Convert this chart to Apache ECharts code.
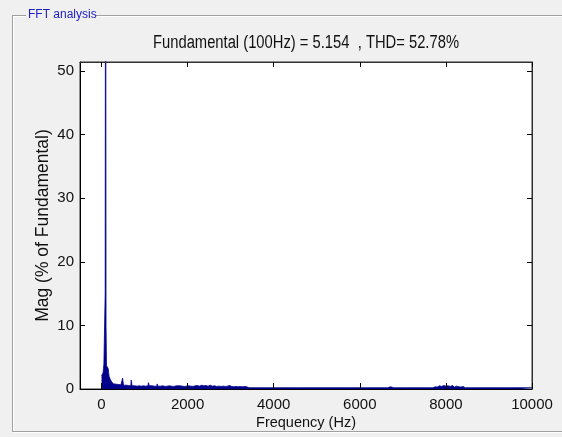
<!DOCTYPE html>
<html>
<head>
<meta charset="utf-8">
<script src="https://cdn.jsdelivr.net/npm/echarts@6/dist/echarts.min.js"></script>
<style>
html,body{margin:0;padding:0;background:#f0f0f0;}
#chart{width:562px;height:437px;}
</style>
</head>
<body>
<div id="chart"></div>
<script>
// ---- data ----
const panelTitle = 'FFT analysis';
const chartTitle = 'Fundamental (100Hz) = 5.154  , THD= 52.78%';
const xAxisName = 'Frequency (Hz)';
const yAxisName = 'Mag (% of Fundamental)';
const xTicks = [0, 2000, 4000, 6000, 8000, 10000];
const yTicks = [0, 10, 20, 30, 40, 50];

// spectrum: frequency (Hz) and magnitude (% of fundamental)
const freqHz = [
  0, 10, 20, 30, 40, 50, 60, 70, 80, 90, 100, 110, 120, 130, 140, 150, 160, 170, 180, 190,
  200, 210, 220, 230, 240, 250, 260, 270, 280, 290,
  300, 350, 400, 450, 480, 500, 520, 550, 600, 650, 680, 700, 720, 750, 800, 850, 900, 950, 1000, 1050,
  1080, 1100, 1120, 1150, 1200, 1250, 1280, 1300, 1320, 1350, 1400, 1450, 1500, 1550, 1600, 1650,
  1700, 1730, 1750, 1770, 1800, 1850, 1900, 1950, 2000, 2050, 2100, 2150, 2200, 2250,
  2300, 2350, 2400, 2450, 2500, 2550, 2600, 2650, 2700, 2750,
  2800, 2850, 2900, 2950, 3000, 3050, 3100, 3150, 3200, 3250, 3300, 3350, 3400,
  3450, 4310, 4330, 4350, 4750, 4770, 4790,
  6580, 6600, 6620, 6680, 6700, 6720, 6860, 6880, 6900, 7310, 7330, 7350,
  7700, 7750, 7800, 7850, 7900, 7950, 8000, 8050, 8100, 8150, 8200, 8250, 8300, 8350, 8400, 8450,
  9000, 9500, 10000
];
const magPct = [
  2.1, 2.3, 2.2, 2.4, 2.5, 3.2, 3.9, 4.1, 4.0, 15.0, 100, 9.8, 3.7, 3.9, 3.5, 3.6, 3.2, 2.6, 2.0, 1.9,
  1.7, 1.5, 1.3, 1.2, 1.1, 1.0, 1.0, 0.9, 0.9, 0.8,
  0.8, 0.75, 0.7, 0.65, 0.6, 1.7, 0.6, 0.6, 0.55, 0.5, 0.5, 1.4, 0.5, 0.5, 0.45, 0.5, 0.45, 0.5, 0.45, 0.5,
  0.5, 1.0, 0.5, 0.5, 0.45, 0.5, 0.45, 0.8, 0.45, 0.45, 0.5, 0.4, 0.45, 0.5, 0.45, 0.4,
  0.55, 0.5, 0.8, 0.5, 0.5, 0.45, 0.4, 0.45, 0.5, 0.45, 0.4, 0.5, 0.55, 0.45,
  0.6, 0.5, 0.55, 0.45, 0.6, 0.45, 0.5, 0.4, 0.45, 0.4,
  0.45, 0.4, 0.45, 0.55, 0.4, 0.35, 0.4, 0.35, 0.4, 0.35, 0.4, 0.35, 0.2,
  0.2, 0.2, 0.35, 0.2, 0.2, 0.35, 0.2,
  0.2, 0.35, 0.2, 0.2, 0.35, 0.2, 0.2, 0.35, 0.2, 0.2, 0.35, 0.2,
  0.2, 0.35, 0.3, 0.5, 0.4, 0.55, 0.45, 0.5, 0.4, 0.55, 0.3, 0.45, 0.35, 0.3, 0.4, 0.2,
  0.2, 0.2, 0.2
];

// ---- chart ----
const sans = '"Liberation Sans", Arial, sans-serif';
const navy = '#00008b';
const points = freqHz.map((f, i) => [f, magPct[i]]);
const plain = v => String(v);

const chart = echarts.init(document.getElementById('chart'), null, {renderer: 'canvas'});
const option = {
  backgroundColor: '#f0f0f0',
  animation: false,
  grid: {left: 80, right: 30, top: 62, bottom: 48, show: true, backgroundColor: '#ffffff', borderColor: '#303030', borderWidth: 1},
  xAxis: [
    {
      type: 'value', min: -500, max: 10000, position: 'bottom', z: 10,
      name: xAxisName, nameLocation: 'middle', nameGap: 26, nameMoveOverlap: false,
      nameTextStyle: {fontFamily: sans, fontSize: 14.5, color: '#111'},
      axisLine: {show: true, onZero: false, lineStyle: {color: '#000', width: 1}},
      axisTick: {show: true, inside: true, length: 6, customValues: xTicks, lineStyle: {color: '#000'}},
      axisLabel: {show: true, customValues: xTicks, formatter: plain, margin: 8, fontFamily: sans, fontSize: 15, color: '#111'},
      splitLine: {show: false}
    },
    {
      type: 'value', min: -500, max: 10000, position: 'top', z: 10,
      axisLine: {show: true, onZero: false, lineStyle: {color: '#303030', width: 1}},
      axisTick: {show: true, inside: true, length: 5, customValues: xTicks, lineStyle: {color: '#000'}},
      axisLabel: {show: false},
      splitLine: {show: false}
    }
  ],
  yAxis: [
    {
      type: 'value', min: 0, max: 51.4, position: 'left', z: 10,
      name: yAxisName, nameLocation: 'middle', nameGap: 28, nameRotate: 90, nameMoveOverlap: false,
      nameTextStyle: {fontFamily: sans, fontSize: 17.5, color: '#111'},
      axisLine: {show: true, onZero: false, lineStyle: {color: '#000', width: 1}},
      axisTick: {show: true, inside: true, length: 5, customValues: yTicks, lineStyle: {color: '#000'}},
      axisLabel: {show: true, customValues: yTicks, formatter: plain, margin: 6, fontFamily: sans, fontSize: 15, color: '#111'},
      splitLine: {show: false}
    },
    {
      type: 'value', min: 0, max: 51.4, position: 'right', z: 10,
      axisLine: {show: true, onZero: false, lineStyle: {color: '#303030', width: 1}},
      axisTick: {show: true, inside: true, length: 5, customValues: yTicks, lineStyle: {color: '#000'}},
      axisLabel: {show: false},
      splitLine: {show: false}
    }
  ],
  series: [
    {
      type: 'line', xAxisIndex: 0, yAxisIndex: 0,
      data: points, step: 'middle', showSymbol: false, symbol: 'none',
      lineStyle: {color: navy, width: 0.8, join: 'miter', cap: 'butt'},
      areaStyle: {color: navy, opacity: 1, origin: 'start'},
      clip: true, z: 3
    }
  ],
  graphic: [
    {type: 'line', shape: {x1: 13, y1: 15.5, x2: 26, y2: 15.5}, style: {stroke: '#a0a0a0', lineWidth: 1}},
    {type: 'line', shape: {x1: 14, y1: 16.5, x2: 26, y2: 16.5}, style: {stroke: '#ffffff', lineWidth: 1}},
    {type: 'line', shape: {x1: 96, y1: 15.5, x2: 562, y2: 15.5}, style: {stroke: '#a0a0a0', lineWidth: 1}},
    {type: 'line', shape: {x1: 96, y1: 16.5, x2: 562, y2: 16.5}, style: {stroke: '#ffffff', lineWidth: 1}},
    {type: 'line', shape: {x1: 12.5, y1: 15, x2: 12.5, y2: 432}, style: {stroke: '#a0a0a0', lineWidth: 1}},
    {type: 'line', shape: {x1: 13.5, y1: 16, x2: 13.5, y2: 432}, style: {stroke: '#ffffff', lineWidth: 1}},
    {type: 'line', shape: {x1: 13, y1: 431.5, x2: 562, y2: 431.5}, style: {stroke: '#a0a0a0', lineWidth: 1}},
    {type: 'line', shape: {x1: 13, y1: 432.5, x2: 562, y2: 432.5}, style: {stroke: '#ffffff', lineWidth: 1}},
    {type: 'text', x: 28, y: 15, style: {text: panelTitle, fill: '#2020c8', font: '12px ' + sans, textVerticalAlign: 'middle', verticalAlign: 'middle'}},
    {type: 'text', x: 306, y: 43, scaleX: 0.82, z: 10,
     style: {text: chartTitle, fill: '#111', font: '18px ' + sans, align: 'center', verticalAlign: 'middle', textAlign: 'center', textVerticalAlign: 'middle'}}
  ]
};
chart.setOption(option);
</script>
</body>
</html>
